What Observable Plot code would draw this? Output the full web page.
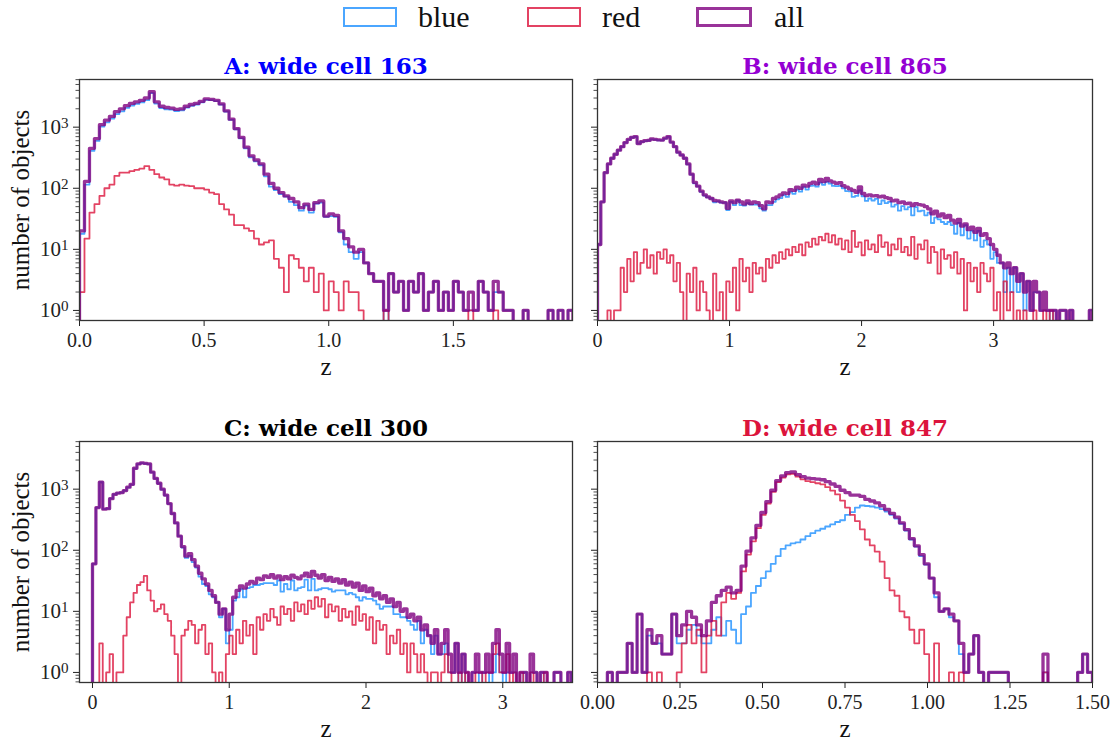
<!DOCTYPE html>
<html><head><meta charset="utf-8">
<script src="https://cdn.jsdelivr.net/npm/d3@7"></script>
<script src="https://cdn.jsdelivr.net/npm/@observablehq/plot@0.6"></script>
<style>
body{margin:0;background:#fff;}
#fig{position:relative;width:1112px;height:742px;overflow:hidden;font-family:"Liberation Serif",serif;background:#fff;}
.panel{position:absolute;}
.legbox{position:absolute;box-sizing:border-box;}
.legtxt{position:absolute;font-size:30px;line-height:30px;color:#111;font-family:"Liberation Serif",serif;}
</style></head><body><div id="fig"></div>
<script>
// ---------------- data ----------------
const seriesNames = ["blue", "red", "all"];
const titles = ["A: wide cell 163", "B: wide cell 865", "C: wide cell 300", "D: wide cell 847"];
const titleColors = ["#0000ff", "#9400d3", "#000000", "#dc143c"];
const xLabel = "z";
const yLabel = "number of objects";
const yMajorTicks = [1, 10, 100, 1000];
const yTickBase = "10";
const yTickExponents = ["0", "1", "2", "3"];
const yMinorTicks = [0.7,0.8,0.9,2,3,4,5,6,7,8,9,20,30,40,50,60,70,80,90,200,300,400,500,600,700,800,900,2000,3000,4000,5000,6000];
const yDomain = [0.684, 6030];

// Panel A: bins start 0, width 0.02
const aBinStart = 0, aBinWidth = 0.02;
const aXDomain = [0, 1.978];
const aXTicks = [0, 0.5, 1.0, 1.5];
const aAll = [20,130,450,650,1100,1300,1500,1800,2000,2250,
 2450,2600,2750,3000,3800,2600,2200,2100,2050,1950,
 2000,2200,2350,2450,2650,2900,2850,2750,2400,1850,
 1350,950,680,470,340,290,250,170,120,100,
 85,75,68,60,48,55,45,58,62,35,
 38,36,20,15,11,9,10,6,4,3,
 3,1,4,2,3,1,3,2,4,1,
 2,3,1,2,1,3,2,1,2,1,
 3,2,1,3,2,1,1,0,0,1,
 0,0,0,0,1,0,1,0,1];
const aRed = [2,15,40,55,75,100,115,160,180,180,
 190,200,210,230,200,170,150,140,115,110,
 115,110,108,100,100,95,85,80,55,45,
 37,25,25,22,20,15,12,13,14,7,
 5,2,8,7,5,3,5,2,4,1,
 3,2,1,3,2,2,1,0,0,0,
 0,1,0,0,0,0,0,0,0,0,
 0,0,0,0,0,0,0,0,1,0,
 0,0,0,1,0,0,0,0,0,0,
 0,0,0,0,0,0,0,0,0];
const aBlue = [18,115,410,595,1025,1200,1385,1640,1820,2070,
 2260,2400,2540,2770,3600,2430,2050,1960,1935,1840,
 1885,2090,2240,2350,2550,2805,2765,2670,2345,1805,
 1313,925,655,448,320,275,238,157,106,93,
 80,73,60,53,43,52,40,56,58,34,
 35,34,19,12,9,7,9,6,4,3,
 3,0,4,2,3,1,3,2,4,1,
 2,3,1,2,1,3,2,1,1,1,
 3,2,1,2,2,1,1,0,0,1,
 0,0,0,0,1,0,1,0,1];

// Panel B: bins start 0, width 0.025
const bBinStart = 0, bBinWidth = 0.025;
const bXDomain = [0, 3.749];
const bXTicks = [0, 1, 2, 3];
const bAll = [12,60,180,250,310,360,420,480,560,630,
 680,700,540,580,600,610,640,630,620,615,
 660,700,570,480,390,350,310,250,170,125,
 108,90,78,72,68,63,62,60,58,47,
 62,58,64,60,55,62,56,60,58,52,
 46,60,58,68,72,78,84,82,95,92,
 104,100,112,108,120,126,118,140,128,145,
 132,126,120,124,110,104,98,92,86,105,
 82,76,78,75,76,72,74,70,68,62,
 64,58,60,56,57,52,56,54,53,50,
 46,38,42,35,38,33,36,30,27,31,
 24,26,21,23,19,22,17,18,15,12,
 10,8,6,5,6,4,5,3,4,2,
 3,1,3,2,1,2,1,1,1,0,
 1,1,0,1,0,0,0,0,0,1];
const bRed = [0,0,0,1,0,1,1,5,2,7,
 3,9,4,6,10,5,8,4,9,7,
 10,6,8,3,6,2,0,4,2,5,
 1,3,2,1,0,4,1,2,0,3,
 2,5,1,7,3,5,2,6,4,5,
 3,7,5,8,6,9,7,10,8,11,
 9,12,8,13,11,15,12,16,14,18,
 13,17,12,15,10,14,9,20,11,13,
 8,14,10,12,9,17,11,13,8,12,
 10,15,9,11,8,16,7,12,10,14,
 6,11,9,4,10,7,8,5,9,4,
 7,1,6,3,5,2,6,4,3,5,
 1,2,0,3,1,2,0,1,0,1,
 0,0,1,0,0,1,0,1,0,0,
 0,0,0,0,0,0,0,0,0,0];
const bBlue = [12,60,180,249,310,359,419,475,558,623,
 677,691,536,574,590,605,632,626,611,608,
 650,694,562,477,384,348,310,246,168,120,
 107,87,76,71,68,59,61,58,58,44,
 60,53,63,53,52,57,54,54,54,47,
 43,53,53,60,66,69,77,72,87,81,
 95,88,104,95,109,111,106,124,114,127,
 119,109,108,109,100,90,89,72,75,92,
 74,62,68,63,67,55,63,57,60,50,
 54,43,51,45,49,36,49,42,43,36,
 40,27,33,31,28,26,28,25,18,27,
 17,25,15,20,14,20,11,14,12,7,
 9,6,6,2,5,2,5,2,4,1,
 3,1,2,2,1,1,1,0,1,0,
 1,1,0,1,0,0,0,0,0,1];

// Panel C: bins start 0, width 0.025
const cBinStart = 0, cBinWidth = 0.025;
const cXDomain = [-0.095, 3.51];
const cXTicks = [0, 1, 2, 3];
const cAll = [60,500,1300,470,480,700,820,860,880,950,
 1080,1200,2200,2600,2700,2650,2600,1900,1500,1250,
 1000,800,580,400,280,170,115,80,88,70,
 55,42,34,28,22,18,14,9,11,5,
 9,17,22,26,24,28,31,29,35,33,
 38,36,40,35,38,33,37,34,39,36,
 34,38,42,37,45,39,35,40,32,36,
 31,34,29,33,27,30,25,29,22,26,
 21,24,18,20,16,18,14,16,12,14,
 10,11,8,9,7,8,5,6,4,3,
 5,2,3,5,2,1,3,1,2,1,
 0,1,2,1,1,2,1,3,5,2,
 1,3,1,2,0,1,1,0,2,1,
 0,1,1,0,0,1,1,0,0,1];
const cRed = [0,0,3,0,1,2,0,1,1,4,
 8,14,20,27,30,38,22,15,10,11,
 13,9,7,4,2,0,4,5,7,6,
 3,5,6,2,3,1,0,1,0,2,
 4,2,5,3,7,4,6,2,8,5,
 9,7,11,8,6,12,9,11,7,14,
 10,13,9,15,11,17,12,16,8,13,
 10,12,7,11,8,10,6,12,7,9,
 5,8,3,7,5,6,2,4,3,5,
 2,3,1,3,2,1,2,1,0,1,
 1,0,1,2,1,0,0,1,0,1,
 0,0,1,1,0,1,1,2,3,1,
 1,2,0,1,0,1,0,0,1,0,
 0,0,1,0,0,0,0,0,0,0];
const cBlue = [60,500,1297,470,479,698,820,859,879,946,
 1072,1186,2180,2573,2670,2612,2578,1885,1490,1239,
 987,791,573,396,278,170,111,75,81,64,
 52,37,28,26,19,17,14,8,11,3,
 5,15,17,23,17,24,25,27,27,28,
 29,29,29,27,32,21,28,23,32,22,
 24,25,33,22,34,22,23,24,24,23,
 21,22,22,22,19,20,19,17,15,17,
 16,16,15,13,11,12,12,12,9,9,
 8,8,7,6,5,7,3,5,4,2,
 4,2,2,3,1,1,3,0,2,0,
 0,1,1,0,1,1,0,1,2,1,
 0,1,1,1,0,0,1,0,1,1,
 0,1,0,0,0,1,1,0,0,1];

// Panel D: bins start 0, width 0.015
const dBinStart = 0, dBinWidth = 0.015;
const dXDomain = [0, 1.5];
const dXTicks = [0, 0.25, 0.5, 0.75, 1.0, 1.25, 1.5];
const dAll = [0,0,1,0,1,1,3,1,9,1,
 5,3,4,2,2,9,4,6,10,8,
 6,4,7,14,18,22,25,20,22,55,
 97,160,256,415,625,960,1380,1655,1870,1910,
 1735,1600,1520,1490,1460,1425,1325,1215,1110,960,
 880,800,800,760,680,640,595,535,465,402,
 348,280,218,155,118,85,60,35,20,10,
 11,9,7,3,1,2,4,1,0,1,
 1,1,1,0,0,0,0,0,0,0,
 2,0,0,0,0,0,0,1,2,1];
const dRed = [0,0,0,0,0,0,0,0,0,0,
 1,0,1,0,0,0,1,3,6,3,
 5,1,4,7,4,14,20,16,20,45,
 85,140,230,380,580,900,1300,1550,1750,1780,
 1600,1450,1350,1300,1250,1200,1080,950,820,650,
 500,380,300,220,150,120,95,65,35,22,
 18,10,8,5,3,5,2,0,3,0,
 0,1,0,1,0,0,0,0,0,0,
 0,0,0,0,0,0,0,0,0,0,
 1,0,0,0,0,0,0,0,0,0];
const dBlue = [0,0,1,0,1,1,3,1,9,1,
 4,3,3,2,2,9,3,3,5,6,
 4,3,3,5,8,4,7,5,3,9,
 12,20,26,35,45,60,80,105,120,130,
 135,150,170,190,210,225,245,265,290,310,
 380,420,500,540,530,520,500,470,430,380,
 330,270,210,150,115,80,58,35,17,10,
 11,8,7,2,1,2,4,1,0,1,
 1,1,1,0,0,0,0,0,0,0,
 1,0,0,0,0,0,0,1,2,1];

// ---------------- styles ----------------
const seriesColor = {blue: "#1e90ff", red: "#dc143c", all: "#800080"};
const seriesWidth = {blue: 1.8, red: 1.8, all: 3.3};
const FLOOR = 0.01; // empty bins fall below the axis (clipped)

function steps(start, width, counts) {
  const pts = [{x: start, y: FLOOR}];
  counts.forEach((c, i) => pts.push({x: start + i * width, y: c > 0 ? c : FLOOR}));
  const end = start + counts.length * width;
  const last = counts[counts.length - 1];
  pts.push({x: end, y: last > 0 ? last : FLOOR});
  pts.push({x: end, y: FLOOR});
  return pts;
}

const panels = [
  {start: aBinStart, width: aBinWidth, blue: aBlue, red: aRed, all: aAll, xDomain: aXDomain, xTicks: aXTicks, fmt: d => d.toFixed(1), showY: true},
  {start: bBinStart, width: bBinWidth, blue: bBlue, red: bRed, all: bAll, xDomain: bXDomain, xTicks: bXTicks, fmt: d => String(d), showY: false},
  {start: cBinStart, width: cBinWidth, blue: cBlue, red: cRed, all: cAll, xDomain: cXDomain, xTicks: cXTicks, fmt: d => String(d), showY: true},
  {start: dBinStart, width: dBinWidth, blue: dBlue, red: dRed, all: dAll, xDomain: dXDomain, xTicks: dXTicks, fmt: d => d.toFixed(2), showY: false}
];

const layout = [
  {left: 0, top: 0, w: 580, h: 380, mL: 79, mR: 8, mT: 79, mB: 60},
  {left: 556, top: 0, w: 556, h: 380, mL: 41, mR: 20, mT: 79, mB: 60},
  {left: 0, top: 370, w: 580, h: 372, mL: 79, mR: 8, mT: 71, mB: 60},
  {left: 556, top: 370, w: 556, h: 372, mL: 41, mR: 20, mT: 71, mB: 60}
];

const fig = document.getElementById("fig");

panels.forEach((p, k) => {
  const L = layout[k];
  const marks = [];
  for (const s of seriesNames) {
    marks.push(Plot.line(steps(p.start, p.width, p[s]), {
      x: "x", y: "y", curve: "step-after", clip: true,
      stroke: seriesColor[s], strokeOpacity: 0.8, strokeWidth: seriesWidth[s],
      strokeLinejoin: "round"
    }));
  }
  marks.push(
    Plot.axisY({ticks: yMinorTicks, tickSize: 3.5, tickFormat: () => "", label: null, strokeWidth: 0.8}),
    Plot.axisY({ticks: yMajorTicks, tickSize: 6, tickPadding: 5, strokeWidth: 1, fontSize: 21,
      tickFormat: p.showY ? (d => yTickBase + yTickExponents[yMajorTicks.indexOf(d)]) : () => "", label: null}),
    Plot.axisX({ticks: p.xTicks, tickSize: 6, tickPadding: 6, tickFormat: p.fmt, label: null, strokeWidth: 1, fontSize: 20}),
    Plot.frame({stroke: "#333", strokeWidth: 1.3}),
    Plot.text([titles[k]], {text: d => d, frameAnchor: "top", lineAnchor: "middle", textAnchor: "middle",
      dy: -13, fontSize: 23, fontWeight: "bold", fontFamily: "DejaVu Serif", fill: titleColors[k]}),
    Plot.text([xLabel], {text: d => d, frameAnchor: "bottom", lineAnchor: "middle", textAnchor: "middle",
      dy: 46, fontSize: 25, fill: "#111"})
  );
  if (p.showY) {
    marks.push(Plot.text([yLabel], {text: d => d, frameAnchor: "left", lineAnchor: "middle", textAnchor: "middle",
      dx: -59, rotate: -90, fontSize: 25, fill: "#111"}));
  }
  const chart = Plot.plot({
    width: L.w, height: L.h,
    marginLeft: L.mL, marginRight: L.mR, marginTop: L.mT, marginBottom: L.mB,
    style: {fontFamily: "Liberation Serif, serif", fontSize: "21px", color: "#222", background: "transparent", overflow: "visible"},
    x: {domain: p.xDomain},
    y: {type: "log", domain: yDomain},
    marks
  });
  // render the y tick labels as 10 with a raised exponent
  d3.select(chart).selectAll("text").each(function () {
    const t = this.textContent;
    if (p.showY && t.length === 3 && t.startsWith(yTickBase) && yTickExponents.includes(t.slice(2))) {
      this.textContent = yTickBase;
      d3.select(this).append("tspan").attr("dy", "-0.42em").attr("font-size", "0.72em").text(t.slice(2));
    }
  });
  const div = document.createElement("div");
  div.className = "panel";
  div.style.left = L.left + "px";
  div.style.top = L.top + "px";
  div.appendChild(chart);
  fig.appendChild(div);
});

// legend
const legendPos = [
  {box: 343, boxW: 54, text: 418, bw: 2},
  {box: 527, boxW: 54, text: 602, bw: 2},
  {box: 696, boxW: 56, text: 774, bw: 3}
];
seriesNames.forEach((s, i) => {
  const P = legendPos[i];
  const b = document.createElement("div");
  b.className = "legbox";
  b.style.left = P.box + "px";
  b.style.top = "7px";
  b.style.width = P.boxW + "px";
  b.style.height = "20px";
  b.style.border = P.bw + "px solid " + seriesColor[s];
  b.style.opacity = 0.8;
  fig.appendChild(b);
  const t = document.createElement("div");
  t.className = "legtxt";
  t.style.left = P.text + "px";
  t.style.top = "2px";
  t.textContent = s;
  fig.appendChild(t);
});
</script>
</body></html>
